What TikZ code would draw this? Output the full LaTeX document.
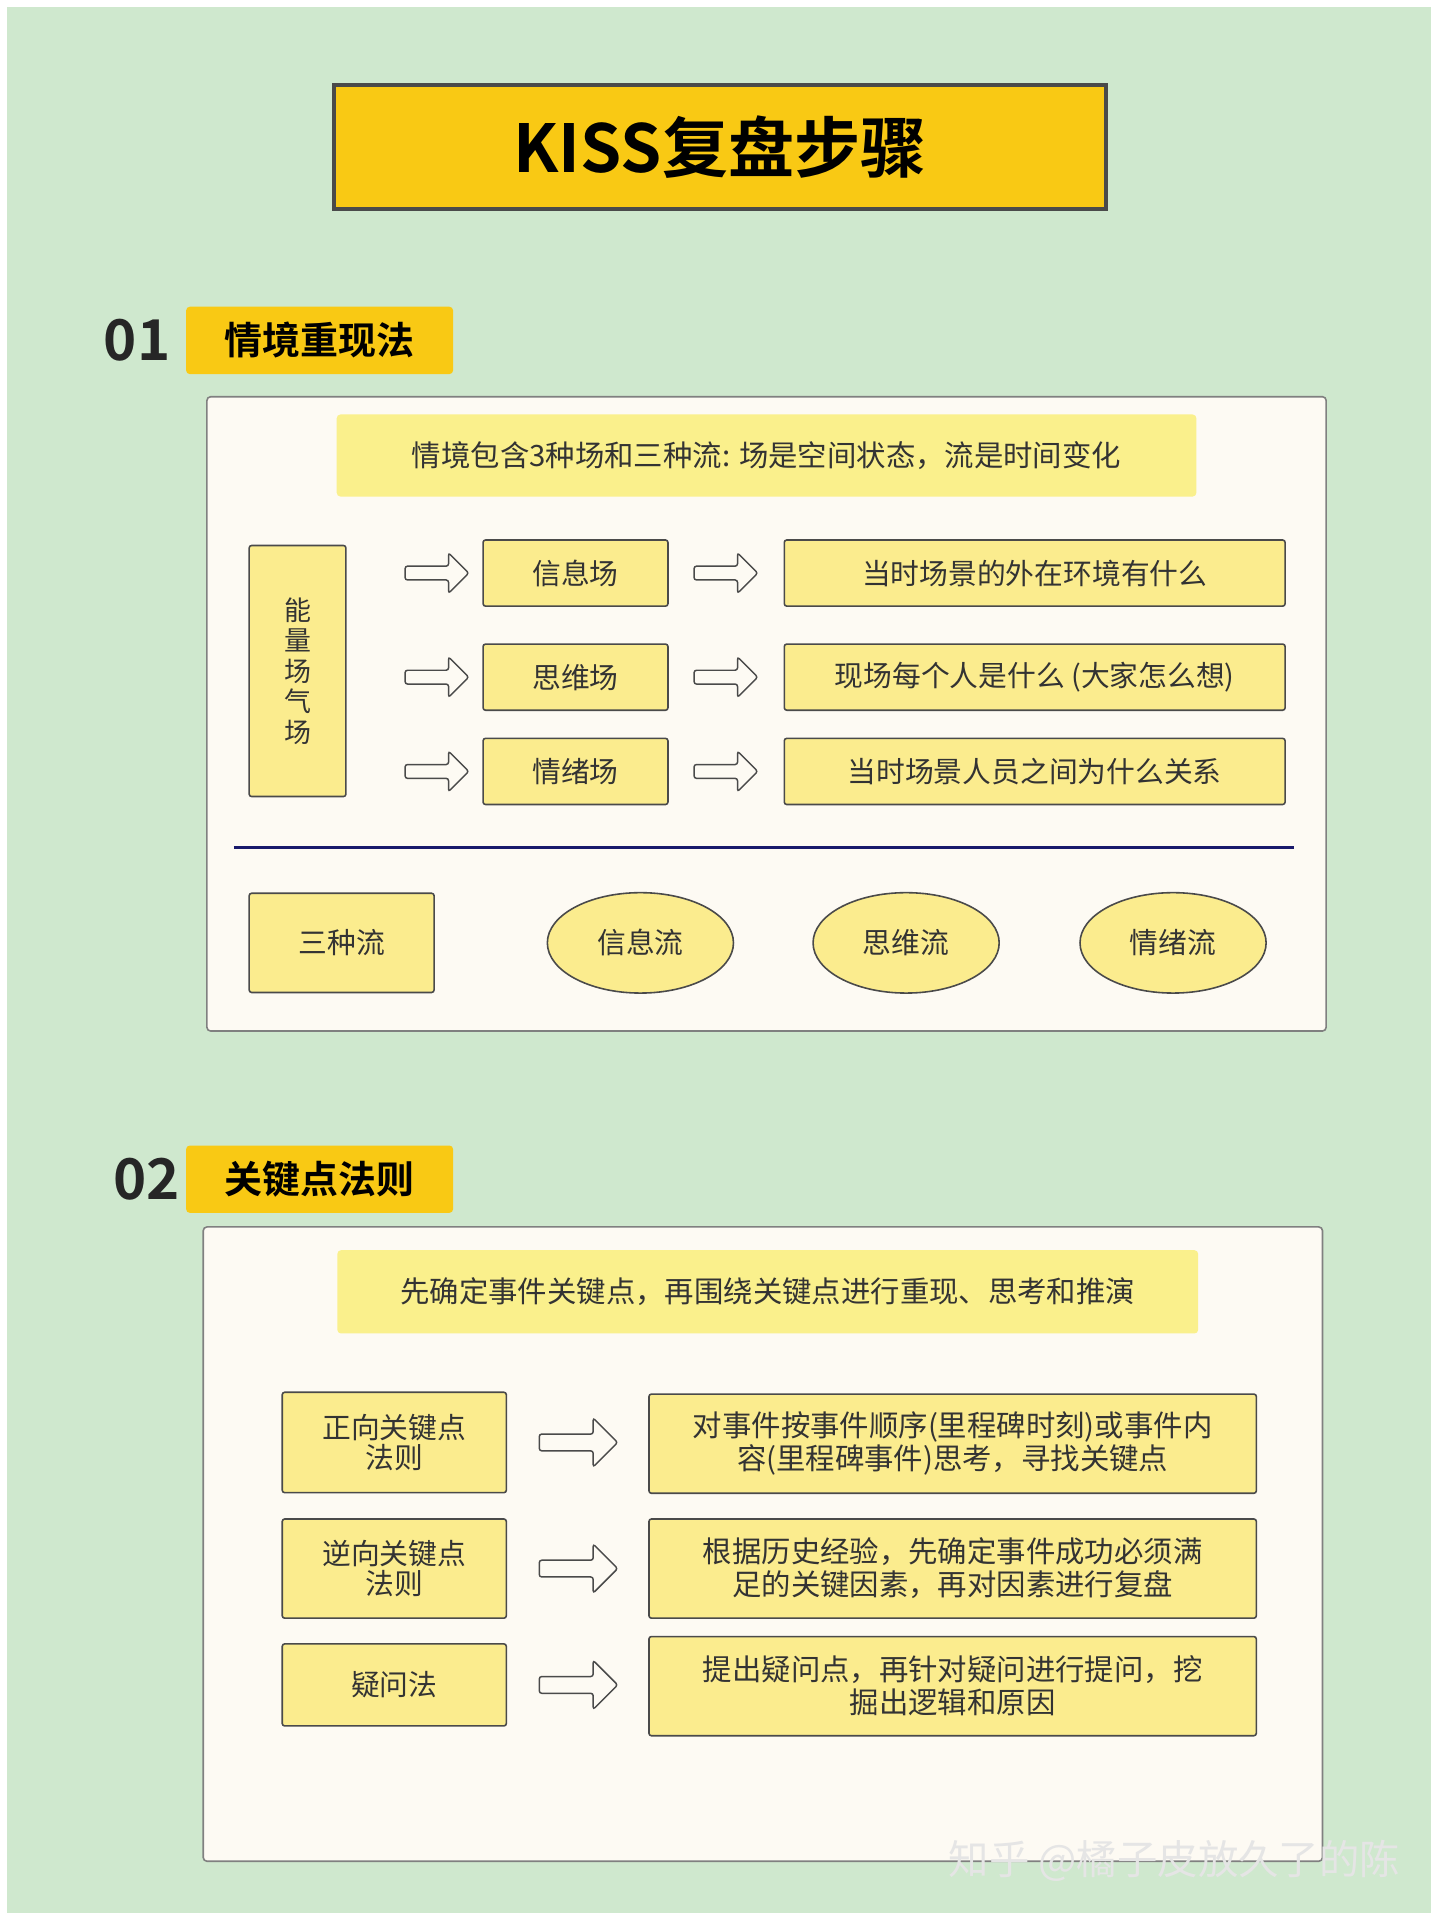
\documentclass[tikz,border=0pt]{standalone}
\usepackage{fontspec}
\setmainfont{Noto Sans CJK SC}
\newfontfamily\cjkb{Noto Sans CJK SC Bold}
\usetikzlibrary{shapes.arrows,shapes.geometric}
\definecolor{bgg}{HTML}{CFE8CE}
\definecolor{gold}{HTML}{F9C914}
\definecolor{ly}{HTML}{FAF08C}
\definecolor{bx}{HTML}{FBEC8E}
\definecolor{pan}{HTML}{FDFAF3}
\definecolor{ln}{HTML}{4A4A4A}
\begin{document}
\begin{tikzpicture}[x=1pt,y=-1pt,
 box/.style={draw=ln,line width=1.3pt,fill=bx,rounded corners=2pt,font=\fontsize{23.5}{26}\selectfont,text=black!80,align=center},
 hdr/.style={fill=ly,rounded corners=3pt,font=\fontsize{24}{27}\selectfont,text=black!80},
 arr/.style={single arrow,draw=ln,line width=1.2pt,fill=pan,minimum height=52pt,minimum width=33pt,single arrow head extend=5pt,inner sep=2pt,rounded corners=2pt},
 ell/.style={ellipse,draw=ln,line width=1.3pt,fill=bx,minimum width=152pt,minimum height=82pt,font=\fontsize{23.5}{26}\selectfont,text=black!80},
 panel/.style={draw=ln!70,line width=1.3pt,fill=pan,rounded corners=3pt},
 tag/.style={fill=gold,rounded corners=3pt,font=\cjkb\fontsize{31}{34}\selectfont},
 num/.style={font=\cjkb\fontsize{46}{50}\selectfont,text=black!85}]
\fill[white] (0,0) rectangle (1175,1568);
\fill[bgg] (6,6) rectangle (1169,1562);
\useasboundingbox (0,0) rectangle (1175,1568);
% title
\node[draw=ln,line width=3pt,fill=gold,minimum width=630pt,minimum height=101pt,font=\cjkb\fontsize{54}{58}\selectfont] (title) at (588,120) {KISS复盘步骤};
% section 1
\node[num] (n1) at (112,278) {01};
\node[tag,minimum width=218pt,minimum height=55pt] (t1) at (261,278) {情境重现法};
\draw[panel] (169,324) rectangle (1083,842);
\node[hdr,minimum width=702pt,minimum height=67pt] (h1) at (626,372) {情境包含3种场和三种流: 场是空间状态，流是时间变化};
\node[box,minimum width=79pt,minimum height=205pt,text width=24pt,font=\fontsize{22}{25}\selectfont] (v) at (243,548) {能\\量\\场\\气\\场};
\foreach \y/\a/\b/\n in {468/信息场/当时场景的外在环境有什么/a,553/思维场/现场每个人是什么 (大家怎么想)/b,630/情绪场/当时场景人员之间为什么关系/c}{
 \node[arr] (l\n) at (354,\y) {};
 \node[box,minimum width=151pt,minimum height=54pt] (m\n) at (470,\y) {\a};
 \node[arr] (r\n) at (590,\y) {};
 \node[box,minimum width=409pt,minimum height=54pt] (e\n) at (845,\y) {\b};
}
\coordinate (s1) at (191,692); \coordinate (s2) at (1057,692);
\draw[line width=2pt,color=black!60!blue!80!gray] (s1) -- (s2);
\node[box,minimum width=151pt,minimum height=81pt] (sz) at (279,770) {三种流};
\node[ell] (f1) at (523,770) {信息流};
\node[ell] (f2) at (740,770) {思维流};
\node[ell] (f3) at (958,770) {情绪流};
% section 2
\node[num] (n2) at (120,963) {02};
\node[tag,minimum width=218pt,minimum height=55pt] (t2) at (261,963) {关键点法则};
\draw[panel] (166,1002) rectangle (1080,1520);
\node[hdr,minimum width=703pt,minimum height=68pt] (h2) at (627,1055) {先确定事件关键点，再围绕关键点进行重现、思考和推演};
\foreach \y/\ly/\lh/\ry/\a/\b/\n in {1178/1178/82/1179/正向关键点\\法则/对事件按事件顺序(里程碑时刻)或事件内\\容(里程碑事件)思考，寻找关键点/a,
 1281/1281/81/1281/逆向关键点\\法则/根据历史经验，先确定事件成功必须满\\足的关键因素，再对因素进行复盘/b,
 1376/1376/67/1377/疑问法/提出疑问点，再针对疑问进行提问，挖\\掘出逻辑和原因/c}{
 \node[box,minimum width=183pt,minimum height=\lh pt,inner sep=1pt,font=\fontsize{23.5}{25}\selectfont] (p\n) at (322,\ly) {\a};
 \node[arr,minimum height=64pt,minimum width=40pt] (q\n) at (469,\y) {};
 \node[box,minimum width=496pt,minimum height=81pt,font=\fontsize{24}{27}\selectfont] (k\n) at (778,\ry) {\b};
}
\node[font=\fontsize{33}{36}\selectfont,text=white!80!gray,anchor=east] (wm) at (1147,1520) {知乎 @橘子皮放久了的陈};
\end{tikzpicture}
\end{document}
